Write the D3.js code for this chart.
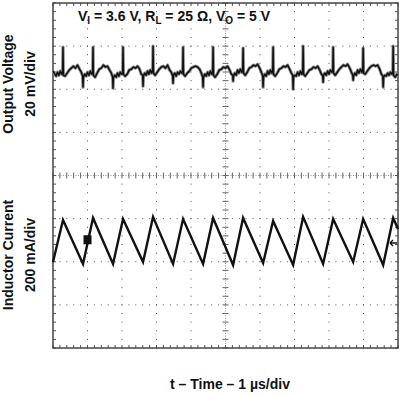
<!DOCTYPE html>
<html><head><meta charset="utf-8">
<script src="https://cdn.jsdelivr.net/npm/d3@7"></script>
<style>html,body{margin:0;padding:0;background:#fff;} svg{display:block;font-family:"Liberation Sans",Arial,sans-serif;}</style>
</head><body><svg id="c" width="400" height="394"></svg>
<script>
// ---- data ----
const timeDomain = [0, 10];            // µs, 1 µs/div
const vPerDiv = 20;                     // mV/div
const iPerDiv = 200;                    // mA/div
const divDomain = [-4, 4];
const vOffsetDiv = 2.42;                // voltage trace position (div above centre)
const iOffsetDiv = -1.565;              // current reference marker position (div)

// inductor current vertices (µs, mA relative to reference marker)
const curT = [0, 0.29, 0.87, 1.16, 1.74, 2.03, 2.61, 2.90, 3.48, 3.77, 4.35, 4.64, 5.22, 5.51, 6.09, 6.38, 6.96, 7.25, 7.83, 8.12, 8.70, 8.99, 9.57, 9.86, 10.0];
const curI = [-88, 107, -97, 116, -97, 111, -88, 121, -97, 111, -97, 116, -102, 116, -93, 102, -102, 121, -97, 111, -88, 111, -102, 116, 65];

// output voltage ripple (µs, mV relative to trace level)
const voltT = [
  0, 0.05, 0.09, 0.13, 0.17, 0.21, 0.25, 0.28, 0.29, 0.30, 0.35, 0.41, 0.47, 0.53, 0.59, 0.65, 0.71, 0.77, 0.82,
  0.86, 0.87, 0.88, 0.92, 0.96, 1.00, 1.04, 1.08, 1.12, 1.15, 1.16, 1.17, 1.22, 1.28, 1.34, 1.40, 1.46, 1.52, 1.58, 1.64, 1.69,
  1.73, 1.74, 1.75, 1.79, 1.83, 1.87, 1.91, 1.95, 1.99, 2.02, 2.03, 2.04, 2.09, 2.15, 2.21, 2.27, 2.33, 2.39, 2.45, 2.51, 2.56,
  2.60, 2.61, 2.62, 2.66, 2.70, 2.74, 2.78, 2.82, 2.86, 2.89, 2.90, 2.91, 2.96, 3.02, 3.08, 3.14, 3.20, 3.26, 3.32, 3.38, 3.43,
  3.47, 3.48, 3.49, 3.53, 3.57, 3.61, 3.65, 3.69, 3.73, 3.76, 3.77, 3.78, 3.83, 3.89, 3.95, 4.01, 4.07, 4.13, 4.19, 4.25, 4.30,
  4.34, 4.35, 4.36, 4.40, 4.44, 4.48, 4.52, 4.56, 4.60, 4.63, 4.64, 4.65, 4.70, 4.76, 4.82, 4.88, 4.94, 5.00, 5.06, 5.12, 5.17,
  5.21, 5.22, 5.23, 5.27, 5.31, 5.35, 5.39, 5.43, 5.47, 5.50, 5.51, 5.52, 5.57, 5.63, 5.69, 5.75, 5.81, 5.87, 5.93, 5.99, 6.04,
  6.08, 6.09, 6.10, 6.14, 6.18, 6.22, 6.26, 6.30, 6.34, 6.37, 6.38, 6.39, 6.44, 6.50, 6.56, 6.62, 6.68, 6.74, 6.80, 6.86, 6.91,
  6.95, 6.96, 6.97, 7.01, 7.05, 7.09, 7.13, 7.17, 7.21, 7.24, 7.25, 7.26, 7.31, 7.37, 7.43, 7.49, 7.55, 7.61, 7.67, 7.73, 7.78,
  7.82, 7.83, 7.84, 7.88, 7.92, 7.96, 8.00, 8.04, 8.08, 8.11, 8.12, 8.13, 8.18, 8.24, 8.30, 8.36, 8.42, 8.48, 8.54, 8.60, 8.65,
  8.69, 8.70, 8.71, 8.75, 8.79, 8.83, 8.87, 8.91, 8.95, 8.98, 8.99, 9.00, 9.05, 9.11, 9.17, 9.23, 9.29, 9.35, 9.41, 9.47, 9.52,
  9.56, 9.57, 9.58, 9.62, 9.66, 9.70, 9.74, 9.78, 9.82, 9.85, 9.86, 9.87, 9.92, 9.97, 10.0
];
const voltV = [
  0.0, -1.4, -2.3, -0.5, -1.9, 0.0, -1.4, -0.5, 11.1, -1.9, -2.3, -0.9, 0.5, 1.4, 2.3, 1.4, 2.8, 0.9, -0.5,
  -2.3, -7.4, -2.8, -1.4, -2.3, -0.5, -1.9, 0.0, -1.4, -0.5, 11.1, -1.9, -2.8, -0.9, 0.9, 1.4, 2.8, 1.9, 2.3, 0.5, -0.9,
  -2.8, -7.9, -3.2, -1.9, -2.8, -0.9, -2.3, -0.5, -1.4, -0.9, 11.1, -1.4, -2.3, -1.4, 0.5, 0.9, 1.9, 1.4, 2.3, 0.9, -1.4,
  -1.9, -7.0, -2.3, -0.9, -1.9, 0.0, -1.4, 0.5, -0.9, 0.5, 11.6, -0.9, -1.9, -0.5, 0.9, 1.9, 2.3, 1.4, 2.8, 0.5, -0.5,
  -2.3, -5.6, -1.9, -0.9, -2.3, -0.5, -1.4, 0.0, -0.9, 0.0, 11.1, -1.4, -2.3, -0.9, 0.0, 1.4, 1.9, 2.3, 1.9, 0.9, -0.9,
  -2.8, -7.4, -2.8, -1.4, -2.3, -0.5, -1.9, 0.0, -1.4, 0.0, 11.1, -1.9, -2.8, -1.4, 0.5, 0.9, 1.9, 1.4, 2.3, 0.5, -1.4,
  -1.9, -4.6, -2.3, -0.9, -1.9, 0.5, -0.9, 0.9, -0.5, 0.9, 10.7, -0.9, -1.9, -0.5, 1.4, 1.9, 2.8, 2.3, 3.2, 1.4, -0.5,
  -2.3, -7.4, -2.8, -1.4, -2.3, 0.0, -1.4, 0.5, -0.9, 0.5, 11.1, -1.4, -2.3, -0.9, 0.9, 1.4, 2.3, 1.9, 2.8, 0.9, -0.9,
  -1.9, -8.4, -2.8, -1.9, -2.3, -0.5, -1.9, 0.0, -1.4, 0.0, 11.6, -1.4, -2.3, -0.9, 0.5, 0.9, 1.9, 1.4, 2.3, 0.5, -1.4,
  -2.3, -5.1, -1.9, -0.9, -1.9, 0.0, -1.4, 0.5, -0.5, 0.5, 11.1, -0.9, -1.9, -0.5, 0.9, 1.9, 2.8, 2.3, 3.2, 1.4, -0.5,
  -1.9, -4.2, -2.3, -0.9, -1.9, 0.5, -0.9, 0.9, -0.5, 0.9, 10.7, -0.9, -1.4, 0.0, 1.4, 2.3, 2.8, 2.3, 2.8, 0.9, -1.4,
  -2.3, -7.4, -2.8, -1.9, -2.3, -0.9, -1.9, -0.5, -1.4, -0.5, 11.6, -1.9, -2.8, -1.4, -1.9
];

const markerT = 1.0, markerI = 15;      // channel marker square

const yLabels = [["Output Voltage", "20 mV/div"], ["Inductor Current", "200 mA/div"]];
const xLabel = "t \u2013 Time \u2013 1 \u00b5s/div";

// ---- scales ----
const L = 53, R = 398, T = 3, B = 348;
const svg = d3.select("#c");
const x = d3.scaleLinear().domain(timeDomain).range([L, R]);
const yDiv = d3.scaleLinear().domain(divDomain).range([B, T]);
const yV = d3.scaleLinear().domain([(divDomain[0] - vOffsetDiv) * vPerDiv, (divDomain[1] - vOffsetDiv) * vPerDiv]).range([B, T]);
const yI = d3.scaleLinear().domain([(divDomain[0] - iOffsetDiv) * iPerDiv, (divDomain[1] - iOffsetDiv) * iPerDiv]).range([B, T]);

// ---- graticule ----
const g = svg.append("g");
const minorY = d3.range(divDomain[0], divDomain[1] + 0.001, 0.2);
const minorX = d3.range(timeDomain[0], timeDomain[1] + 0.001, 0.2);
const dotCol = "#555";
d3.range(1, 10).filter(t => t !== 5).forEach(t => {
  g.selectAll(null).data(minorY).join("rect")
    .attr("x", x(t) - 0.5).attr("y", d => yDiv(d) - 0.5).attr("width", 1).attr("height", 1).attr("fill", dotCol);
});
d3.range(-3, 4).filter(d => d !== 0).forEach(dv => {
  g.selectAll(null).data(minorX).join("rect")
    .attr("x", d => x(d) - 0.5).attr("y", yDiv(dv) - 0.5).attr("width", 1).attr("height", 1).attr("fill", dotCol);
});
g.append("line").attr("x1", x(5)).attr("x2", x(5)).attr("y1", T).attr("y2", B)
  .attr("stroke", "#999").attr("stroke-width", 1).attr("stroke-dasharray", "1,1.5");
g.append("line").attr("x1", L).attr("x2", R).attr("y1", yDiv(0)).attr("y2", yDiv(0))
  .attr("stroke", "#999").attr("stroke-width", 1).attr("stroke-dasharray", "1,1.5");
g.selectAll(null).data(minorY).join("line")
  .attr("x1", x(5) - 3).attr("x2", x(5) + 3).attr("y1", d => yDiv(d)).attr("y2", d => yDiv(d))
  .attr("stroke", "#666").attr("stroke-width", 1);
g.selectAll(null).data(minorX).join("line")
  .attr("x1", d => x(d)).attr("x2", d => x(d)).attr("y1", yDiv(0) - 3).attr("y2", yDiv(0) + 3)
  .attr("stroke", "#666").attr("stroke-width", 1);
g.selectAll(null).data(minorY).join("line")
  .attr("x1", L).attr("x2", L + 3).attr("y1", d => yDiv(d)).attr("y2", d => yDiv(d)).attr("stroke", "#555");
g.selectAll(null).data(minorY).join("line")
  .attr("x1", R - 3).attr("x2", R).attr("y1", d => yDiv(d)).attr("y2", d => yDiv(d)).attr("stroke", "#555");
g.selectAll(null).data(minorX).join("line")
  .attr("x1", d => x(d)).attr("x2", d => x(d)).attr("y1", T).attr("y2", T + 3).attr("stroke", "#555");
g.selectAll(null).data(minorX).join("line")
  .attr("x1", d => x(d)).attr("x2", d => x(d)).attr("y1", B - 3).attr("y2", B).attr("stroke", "#555");
g.append("rect").attr("x", L).attr("y", T).attr("width", R - L).attr("height", B - T)
  .attr("fill", "none").attr("stroke", "#444").attr("stroke-width", 1.5);

// ---- traces ----
const n = Math.min(voltT.length, voltV.length);
const vData = d3.range(n).map(i => [voltT[i], voltV[i]]);
const iData = curT.map((t, i) => [t, curI[i]]);
const vLine = d3.line().x(d => x(d[0])).y(d => yV(d[1]));
const iLine = d3.line().x(d => x(d[0])).y(d => yI(d[1]));

svg.append("path").attr("d", vLine(vData)).attr("fill", "none").attr("stroke", "#8a8a8a").attr("stroke-width", 3.2).attr("stroke-linejoin", "round");
svg.append("path").attr("d", vLine(vData)).attr("fill", "none").attr("stroke", "#111").attr("stroke-width", 1.5).attr("stroke-linejoin", "round");
svg.append("path").attr("d", iLine(iData)).attr("fill", "none").attr("stroke", "#111").attr("stroke-width", 2.4).attr("stroke-linejoin", "miter");

svg.append("rect").attr("x", x(markerT) - 4).attr("y", yI(markerI) - 4.5).attr("width", 8).attr("height", 9).attr("fill", "#111");
const ay = yI(0);
svg.append("path").attr("d", `M${R - 8},${ay} L${R - 1},${ay} M${R - 8},${ay} L${R - 5},${ay - 3} M${R - 8},${ay} L${R - 5},${ay + 3}`)
  .attr("stroke", "#111").attr("stroke-width", 1.4).attr("fill", "none");

// ---- text ----
const title = svg.append("text").attr("x", 78).attr("y", 20.5).attr("font-size", 14).attr("font-weight", "bold").attr("fill", "#111");
const parts = [["V", 0], ["I", 1], [" = 3.6 V, R", 0], ["L", 1], [" = 25 \u03a9, V", 0], ["O", 1], [" = 5 V", 0]];
parts.forEach(([s, sub], i) => {
  const ts = title.append("tspan").text(s);
  if (sub) ts.attr("font-size", 10).attr("dy", 3);
  else if (i > 0) ts.attr("dy", -3);
});

const centres = [84, 255];
yLabels.forEach((pair, i) => {
  [12.5, 35].forEach((bx, j) => {
    svg.append("text").attr("transform", `translate(${bx},${centres[i]}) rotate(-90)`)
      .attr("text-anchor", "middle").attr("font-size", 14).attr("font-weight", "bold").attr("fill", "#111")
      .text(pair[j]);
  });
});
svg.append("text").attr("x", 230).attr("y", 389).attr("text-anchor", "middle")
  .attr("font-size", 14).attr("font-weight", "bold").attr("fill", "#111").text(xLabel);
</script></body></html>
